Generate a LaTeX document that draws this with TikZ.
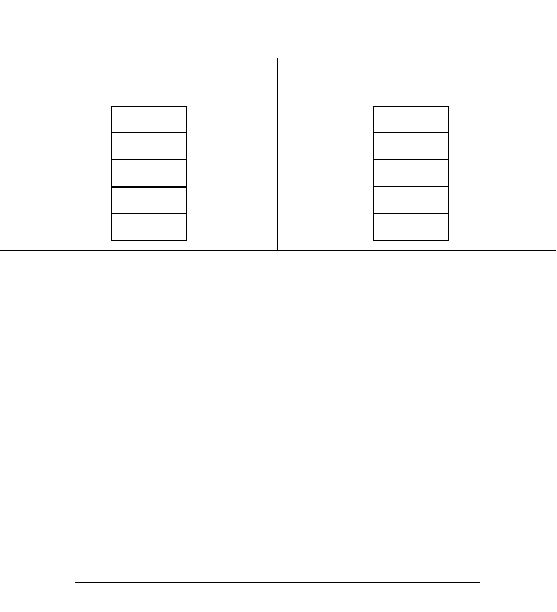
\documentclass[tikz,border=0pt]{standalone}
\usetikzlibrary{positioning}
\tikzset{cell/.style={draw, line width=0.8pt, minimum width=75pt, minimum height=26.8pt, inner sep=0pt}}
\begin{document}
\begin{tikzpicture}[x=1pt,y=-1pt,node distance=26.8pt, on grid]
        \useasboundingbox (0,0) rectangle (556,612);
        \node[cell] (a1) at (149,119.4) {};
        \node[cell] (a2) [below=of a1] {};
        \node[cell] (a3) [below=of a2] {};
        \node[cell] (a4) [below=of a3] {};
        \node[cell] (a5) [below=of a4] {};
        \node[cell] (b1) at (411,119.4) {};
        \node[cell] (b2) [below=of b1] {};
        \node[cell] (b3) [below=of b2] {};
        \node[cell] (b4) [below=of b3] {};
        \node[cell] (b5) [below=of b4] {};
        \draw[line width=1.5pt] (a3.south west) -- (a3.south east);
        \coordinate (top) at (277,58);
        \coordinate (mid) at (277,250);
        \coordinate (wl) at (0,250);
        \coordinate (wr) at (556,250);
        \coordinate (fl) at (75,582);
        \coordinate (fr) at (480,582);
        \path[-, line width=0.8pt]
        (top) edge (mid)
        (wl) edge (wr);
        \path[-, line width=1pt]
        (fl) edge (fr);
    \end{tikzpicture}
\end{document}
